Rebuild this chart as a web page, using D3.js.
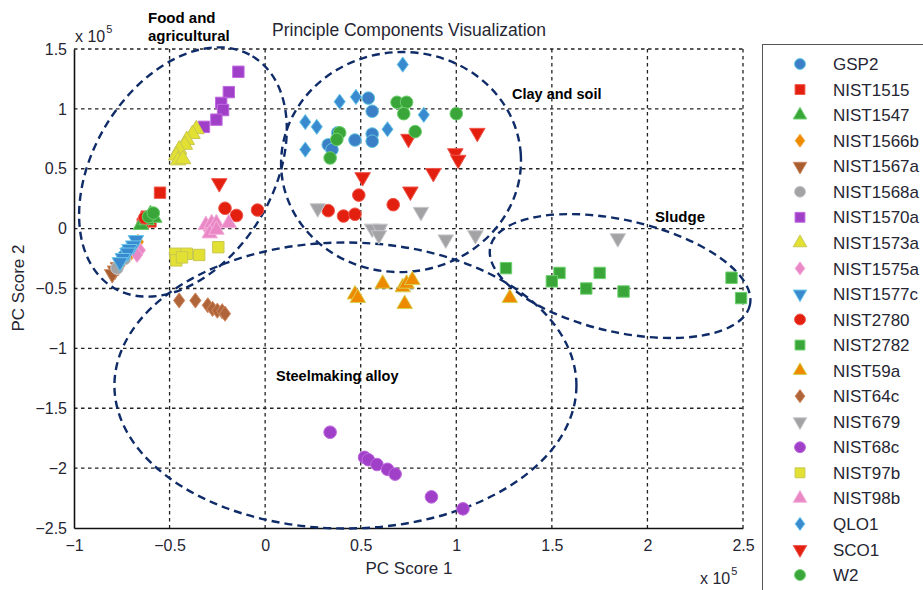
<!DOCTYPE html>
<html>
<head>
<meta charset="utf-8">
<script src="https://cdn.jsdelivr.net/npm/d3@7"></script>
<style>
  html, body { margin: 0; padding: 0; background: #fff; }
  svg { display: block; font-family: "Liberation Sans", Arial, sans-serif; }
</style>
</head>
<body>
<svg id="chart" width="923" height="590"></svg>
<script>
// PC scores (units of 1e5) for each reference material
const GSP2 = [[0.54,1.09],[0.56,0.98],[0.38,0.80],[0.33,0.70],[0.35,0.66],[0.47,0.74],[0.56,0.79],[0.56,0.73],[-0.72,-0.18],[-0.74,-0.23]];
const NIST1515 = [[-0.55,0.30],[-0.62,0.10],[-0.60,0.06],[-0.64,0.04]];
const NIST1547 = [[-0.65,0.03],[-0.60,0.12],[-0.58,0.09],[-0.62,0.07]];
const NIST1566b = [[-0.665,-0.11],[-0.68,-0.16],[-0.70,-0.20]];
const NIST1567a = [[-0.785,-0.35],[-0.77,-0.32],[-0.80,-0.38],[-0.755,-0.29]];
const NIST1568a = [[-0.775,-0.33],[-0.735,-0.25]];
const NIST1570a = [[-0.14,1.31],[-0.19,1.14],[-0.23,1.05],[-0.22,0.99],[-0.255,0.91],[-0.32,0.85]];
const NIST1573a = [[-0.36,0.83],[-0.38,0.79],[-0.41,0.74],[-0.42,0.70],[-0.45,0.66],[-0.465,0.61],[-0.455,0.57],[-0.43,0.58]];
const NIST1575a = [[-0.655,-0.18],[-0.67,-0.22],[-0.31,0.02],[-0.27,0.00]];
const NIST1577c = [[-0.676,-0.095],[-0.69,-0.14],[-0.71,-0.17],[-0.72,-0.20],[-0.745,-0.245],[-0.76,-0.28]];
const NIST2780 = [[0.49,0.28],[0.33,0.15],[0.41,0.105],[0.47,0.12],[0.67,0.20],[-0.21,0.17],[-0.15,0.11],[-0.04,0.155],[-0.63,0.09]];
const NIST2782 = [[1.26,-0.33],[1.54,-0.37],[1.50,-0.44],[1.75,-0.37],[1.68,-0.50],[1.875,-0.525],[2.44,-0.41],[2.49,-0.58]];
const NIST59a = [[0.47,-0.55],[0.485,-0.58],[0.615,-0.46],[0.72,-0.49],[0.74,-0.46],[0.77,-0.43],[0.73,-0.63],[1.28,-0.58]];
const NIST64c = [[-0.45,-0.60],[-0.365,-0.60],[-0.30,-0.64],[-0.275,-0.67],[-0.25,-0.685],[-0.225,-0.69],[-0.21,-0.71]];
const NIST679 = [[0.275,0.17],[0.56,0.00],[0.60,0.00],[0.595,-0.055],[0.815,0.14],[0.945,-0.09],[1.10,-0.055],[1.845,-0.08]];
const NIST68c = [[0.34,-1.70],[0.52,-1.91],[0.54,-1.93],[0.585,-1.97],[0.64,-2.01],[0.68,-2.05],[0.87,-2.24],[1.035,-2.34]];
const NIST97b = [[-0.47,-0.21],[-0.41,-0.21],[-0.465,-0.265],[-0.435,-0.24],[-0.345,-0.22],[-0.245,-0.155]];
const NIST98b = [[-0.31,0.03],[-0.28,0.045],[-0.255,0.045],[-0.29,-0.04],[-0.255,-0.01],[-0.19,0.045]];
const QLO1 = [[0.39,1.06],[0.475,1.10],[0.72,1.37],[0.21,0.89],[0.27,0.85],[0.21,0.66],[0.64,0.83],[0.83,0.95]];
const SCO1 = [[0.75,0.75],[1.11,0.80],[0.995,0.63],[1.01,0.575],[0.88,0.465],[0.51,0.43],[0.76,0.31],[-0.24,0.38]];
const W2 = [[0.69,1.055],[0.74,1.055],[0.725,0.96],[1.00,0.96],[0.785,0.81],[0.39,0.80],[0.375,0.745],[0.34,0.59],[-0.61,0.10],[-0.585,0.13]];

const seriesNames = ["GSP2","NIST1515","NIST1547","NIST1566b","NIST1567a","NIST1568a","NIST1570a","NIST1573a","NIST1575a","NIST1577c","NIST2780","NIST2782","NIST59a","NIST64c","NIST679","NIST68c","NIST97b","NIST98b","QLO1","SCO1","W2"];
const seriesValues = [GSP2,NIST1515,NIST1547,NIST1566b,NIST1567a,NIST1568a,NIST1570a,NIST1573a,NIST1575a,NIST1577c,NIST2780,NIST2782,NIST59a,NIST64c,NIST679,NIST68c,NIST97b,NIST98b,QLO1,SCO1,W2];

const xTicks = [-1,-0.5,0,0.5,1,1.5,2,2.5];
const yTicks = [-2.5,-2,-1.5,-1,-0.5,0,0.5,1,1.5];

// Marker look per series: shape, fill, edge
const markerShape = ["circle","square","triangle","diamond","down","circle","square","triangle","diamond","down","circle","square","triangle","diamond","down","circle","square","triangle","diamond","down","circle"];
const markerFill = ["#3b7fc6","#e3200f","#3aa63a","#ee8a00","#a85e30","#a3a3a6","#a040c8","#e3e034","#ea88c6","#3a8ad0","#e3200f","#3aa63a","#ee8a00","#b0643a","#a3a3a6","#a040c8","#e3e034","#ea88c6","#3a8ad0","#e3200f","#3aa63a"];
const markerEdge = ["#63c6e0","#f0584e","#6cd06c","#f5b04a","#c8885e","#c8c8cc","#c06ae0","#c8c850","#f4b0dc","#6cc8ea","#f0584e","#6cd06c","#d8d050","#d08a60","#c8c8cc","#c06ae0","#c8c850","#f4b0dc","#6cc8ea","#f0584e","#6cd06c"];

// Cluster outlines: centre in PC units, radii in px, rotation in degrees
const clusterNames = ["Food and agricultural","Clay and soil","Sludge","Steelmaking alloy"];
const clusterCentres = [[-0.43,0.473],[0.711,0.556],[1.857,-0.396],[0.42,-1.31]];
const clusterRadii = [[135,90],[120,110],[133,56],[231,143]];
const clusterTilt = [-59,-4,12.7,0];

(function draw() {
  const svg = d3.select("#chart");
  const plotLeft = 74, plotRight = 743, plotTop = 49, plotBottom = 528;

  const x = d3.scaleLinear().domain([-1, 2.5]).range([plotLeft, plotRight]);
  const y = d3.scaleLinear().domain([-2.5, 1.5]).range([plotBottom, plotTop]);

  const ink = "#262633";

  // grid (dotted), includes the top and right borders
  const grid = svg.append("g");
  grid.selectAll("line.v").data(xTicks.filter(t => t > -1)).join("line")
    .attr("x1", d => x(d)).attr("x2", d => x(d))
    .attr("y1", plotTop).attr("y2", plotBottom)
    .attr("stroke", "#222").attr("stroke-width", 1.3).attr("stroke-dasharray", "3.5,3.5");
  grid.selectAll("line.h").data(yTicks.filter(t => t > -2.5)).join("line")
    .attr("y1", d => y(d)).attr("y2", d => y(d))
    .attr("x1", plotLeft).attr("x2", plotRight)
    .attr("stroke", "#222").attr("stroke-width", 1.3).attr("stroke-dasharray", "3.5,3.5");

  // axes
  const xAxis = d3.axisBottom(x).tickValues(xTicks).tickSize(0).tickPadding(12).tickFormat(d3.format("~g"));
  const yAxis = d3.axisLeft(y).tickValues(yTicks).tickSize(0).tickPadding(7).tickFormat(d3.format("~g"));
  const gx = svg.append("g").attr("transform", `translate(0,${plotBottom})`).call(xAxis);
  const gy = svg.append("g").attr("transform", `translate(${plotLeft},0)`).call(yAxis);
  [gx, gy].forEach(g => {
    g.select(".domain").attr("stroke", "#111").attr("stroke-width", 1.6);
    g.selectAll("text").attr("font-size", 16).attr("fill", ink).attr("font-family", "Liberation Sans, Arial, sans-serif");
  });

  // exponent notes
  function expNote(xp, yp) {
    const t = svg.append("text").attr("x", xp).attr("y", yp).attr("font-size", 16).attr("fill", ink);
    t.append("tspan").text("x 10");
    t.append("tspan").attr("dy", -9).attr("dx", 1).attr("font-size", 11).text("5");
  }
  expNote(75, 42);
  expNote(700, 584);

  // titles
  svg.append("text").attr("x", 409).attr("y", 36).attr("text-anchor", "middle")
    .attr("font-size", 17.5).attr("fill", ink).text("Principle Components Visualization");
  svg.append("text").attr("x", 409).attr("y", 574).attr("text-anchor", "middle")
    .attr("font-size", 17).attr("fill", ink).text("PC Score 1");
  svg.append("text").attr("transform", "translate(24,288) rotate(-90)").attr("text-anchor", "middle")
    .attr("font-size", 17).attr("fill", ink).text("PC Score 2");

  // cluster outlines
  const ell = svg.append("g");
  clusterCentres.forEach((c, i) => {
    ell.append("ellipse")
      .attr("cx", 0).attr("cy", 0)
      .attr("rx", clusterRadii[i][0]).attr("ry", clusterRadii[i][1])
      .attr("transform", `translate(${x(c[0])},${y(c[1])}) rotate(${clusterTilt[i]})`)
      .attr("fill", "none").attr("stroke", "#0f2c68").attr("stroke-width", 2.4)
      .attr("stroke-dasharray", "8,5");
  });

  // cluster captions
  const cap = svg.append("g").attr("font-weight", "bold").attr("font-size", 15).attr("fill", "#000");
  cap.append("text").attr("x", 148).attr("y", 23).text("Food and");
  cap.append("text").attr("x", 148).attr("y", 41).text("agricultural");
  cap.append("text").attr("x", 512).attr("y", 99).attr("font-size", 14.5).text("Clay and soil");
  cap.append("text").attr("x", 655).attr("y", 222).text("Sludge");
  cap.append("text").attr("x", 276).attr("y", 381).attr("font-size", 14.5).text("Steelmaking alloy");

  // marker path generator
  function markerPath(shape, scale) {
    const s = scale || 1;
    switch (shape) {
      case "circle": return d3.symbol(d3.symbolCircle, 125 * s)();
      case "square": return d3.symbol(d3.symbolSquare, 130 * s)();
      case "triangle": return d3.symbol(d3.symbolTriangle, 105 * s)();
      case "down": return d3.symbol(d3.symbolTriangle, 105 * s)();
      case "diamond": {
        const k = Math.sqrt(s), w = 5.6 * k, h = 7.6 * k;
        const p = d3.path();
        p.moveTo(0, -h); p.lineTo(w, 0); p.lineTo(0, h); p.lineTo(-w, 0); p.closePath();
        return p.toString();
      }
    }
  }

  // points
  const pts = svg.append("g");
  seriesNames.forEach((name, i) => {
    pts.append("g").attr("class", "series").selectAll("path")
      .data(seriesValues[i]).join("path")
      .attr("d", markerPath(markerShape[i]))
      .attr("transform", d => `translate(${x(d[0])},${y(d[1])})` + (markerShape[i] === "down" ? " rotate(180)" : ""))
      .attr("fill", markerFill[i]).attr("stroke", markerEdge[i]).attr("stroke-width", 1);
  });

  // legend
  const lg = svg.append("g");
  lg.append("rect").attr("x", 762.5).attr("y", 44.5).attr("width", 170).attr("height", 560)
    .attr("fill", "#fff").attr("stroke", "#555").attr("stroke-width", 1);
  const rowY = d3.scaleLinear().domain([0, 20]).range([64, 575]);
  seriesNames.forEach((name, i) => {
    const ry = rowY(i);
    lg.append("path").attr("d", markerPath(markerShape[i], 0.75))
      .attr("transform", `translate(800,${ry})` + (markerShape[i] === "down" ? " rotate(180)" : ""))
      .attr("fill", markerFill[i]).attr("stroke", markerEdge[i]).attr("stroke-width", 1);
    lg.append("text").attr("x", 833).attr("y", ry).attr("dy", "0.36em")
      .attr("font-size", 17).attr("fill", ink).text(name);
  });
})();
</script>
</body>
</html>
